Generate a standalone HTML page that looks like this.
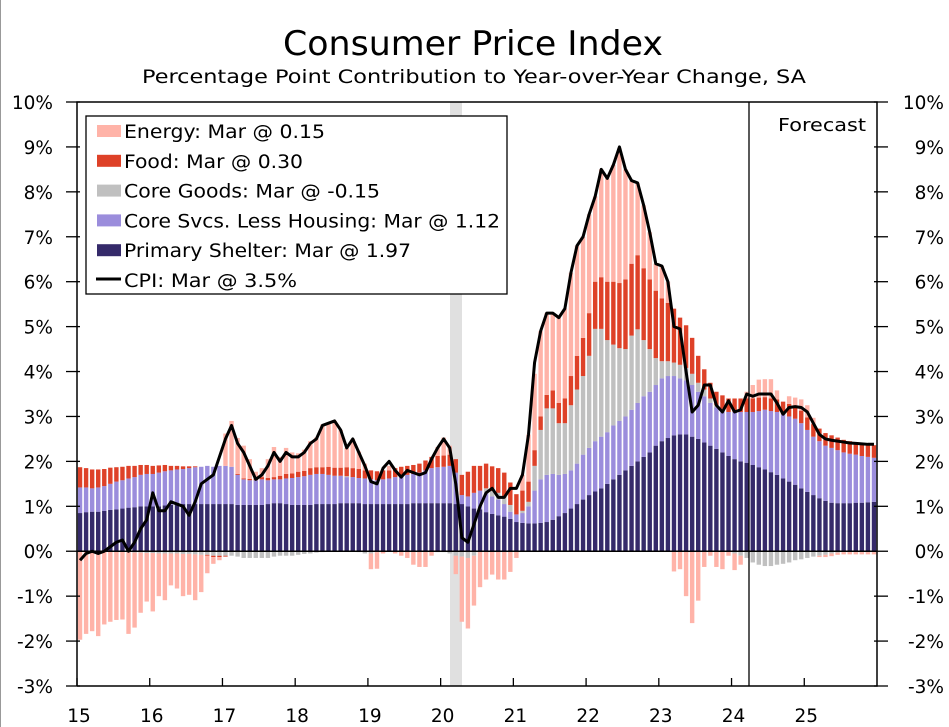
<!DOCTYPE html>
<html><head><meta charset="utf-8"><style>
body{margin:0;background:#fff;}
svg{display:block;font-family:"DejaVu Sans","Liberation Sans",sans-serif;}
</style></head><body>
<svg id="chart" width="949" height="727" viewBox="0 0 949 727">
<rect x="0" y="0" width="949" height="727" fill="#fff"/>
<line x1="0.5" y1="0" x2="0.5" y2="727" stroke="#999"/>
<text x="283" y="55" font-size="34" textLength="380" lengthAdjust="spacingAndGlyphs" fill="#000">Consumer Price Index</text>
<text x="142" y="83" font-size="19" textLength="664" lengthAdjust="spacingAndGlyphs" fill="#000">Percentage Point Contribution to Year-over-Year Change, SA</text>
<g id="plot"></g>
</svg>
<script>
const years=['15','16','17','18','19','20','21','22','23','24','25'];
const yTicks=[10,9,8,7,6,5,4,3,2,1,0,-1,-2,-3];
const shelter=[.85,.87,.88,.88,.9,.92,.93,.95,.97,.98,1.0,1.0, 1.0,1.0,1.02,1.03,1.05,1.05,1.05,1.05,1.05,1.05,1.05,1.05, 1.05,1.05,1.03,1.03,1.03,1.03,1.03,1.05,1.07,1.07,1.05,1.03, 1.03,1.03,1.03,1.05,1.05,1.05,1.05,1.07,1.07,1.07,1.07,1.05, 1.05,1.05,1.05,1.05,1.05,1.05,1.05,1.07,1.07,1.07,1.07,1.07, 1.07,1.07,1.05,1.05,1.0,.95,.93,.87,.83,.8,.77,.72, .65,.63,.62,.62,.63,.65,.7,.78,.85,.95,1.05,1.15, 1.25,1.33,1.4,1.5,1.6,1.7,1.8,1.9,2.0,2.1,2.2,2.35, 2.45,2.52,2.58,2.6,2.6,2.55,2.5,2.42,2.35,2.28,2.2,2.12, 2.05,2.0,1.97,1.92,1.87,1.82,1.76,1.7,1.62,1.55,1.48,1.4, 1.32,1.25,1.18,1.12,1.08,1.07,1.07,1.07,1.08,1.08,1.09,1.1];
const coreSvcs=[.57,.55,.52,.54,.55,.58,.62,.63,.65,.67,.7,.72, .72,.75,.76,.77,.77,.78,.8,.82,.83,.85,.83,.85, .85,.83,.67,.57,.55,.55,.57,.53,.53,.53,.57,.6, .62,.64,.67,.67,.67,.65,.63,.61,.58,.58,.56,.57, .55,.53,.55,.57,.6,.63,.65,.65,.68,.73,.78,.8, .81,.83,.7,.2,.22,.35,.42,.43,.39,.35,.28,.16, .17,.22,.38,.73,.97,1.05,1.02,.92,.87,.85,.9,1.0, 1.05,1.12,1.15,1.15,1.2,1.2,1.2,1.25,1.3,1.35,1.35,1.35, 1.4,1.38,1.32,1.25,1.2,1.15,1.05,1.03,.95,.92,.95,.98, 1.05,1.1,1.13,1.18,1.25,1.33,1.36,1.4,1.43,1.45,1.47,1.45, 1.38,1.3,1.27,1.23,1.22,1.18,1.13,1.1,1.07,1.04,1.01,.98];
const coreGoods=[0,0,0,0,0,0,0,0,-.02,-.03,-.03,-.04, -.04,-.05,-.05,-.05,-.05,-.06,-.06,-.07,-.08,-.08,-.1,-.1, -.1,-.1,-.12,-.15,-.15,-.15,-.15,-.15,-.12,-.1,-.1,-.1, -.08,-.06,-.05,-.03,-.02,0,0,0,.02,0,-.02,-.05, -.05,-.02,0,0,0,0,0,0,0,0,0,-.02, -.02,-.05,-.1,-.12,-.15,-.1,0,.1,.12,.15,.15,.15, 0,.05,.1,.55,1.1,1.48,1.46,1.15,1.13,1.45,1.65,1.75, 2.05,2.5,2.4,2.05,1.8,1.62,1.5,1.65,1.64,1.25,.95,.6, .38,.33,.3,.3,.28,.25,.2,.15,.1,.05,.02,0, -.05,-.1,-.15,-.25,-.3,-.33,-.33,-.3,-.28,-.25,-.2,-.18, -.15,-.12,-.1,-.08,-.05,-.03,-.02,-.02,-.02,-.02,-.02,-.02];
const food=[.45,.43,.42,.4,.38,.36,.32,.3,.28,.25,.22,.2, .18,.16,.14,.1,.08,.06,.04,.02,0,-.02,-.03,-.03, -.02,0,.02,.02,.03,.04,.05,.05,.05,.08,.1,.1, .12,.12,.15,.15,.15,.18,.18,.18,.2,.2,.2,.18, .2,.2,.2,.18,.2,.2,.2,.2,.2,.22,.25,.25, .25,.25,.3,.45,.55,.6,.55,.55,.55,.55,.55,.5, .45,.45,.45,.35,.3,.3,.4,.45,.55,.65,.75,.85, .95,1.05,1.15,1.3,1.4,1.45,1.55,1.6,1.65,1.6,1.55,1.5, 1.4,1.3,1.2,1.05,.95,.8,.6,.45,.35,.3,.3,.3, .3,.3,.3,.3,.3,.28,.28,.28,.28,.28,.28,.28, .28,.28,.28,.28,.28,.28,.28,.28,.28,.28,.28,.28];
const energy=[-1.97,-1.84,-1.78,-1.89,-1.63,-1.57,-1.53,-1.52,-1.82,-1.67,-1.34,-1.08, -1.3,-.95,-1.04,-.71,-.78,-.94,-.91,-1.02,-.83,-.39,-.15,-.07, .72,1.02,.8,.73,.44,.15,.2,.42,.67,.42,.58,.47, .41,.47,.6,.66,.95,.97,1.04,.84,.43,.65,.39,.15, -.35,-.37,-.05,.1,-.05,-.1,-.15,-.3,-.35,-.35,-.1,.2, .4,.2,-.41,-1.45,-1.57,-1.11,-.8,-.63,-.52,-.63,-.63,-.46, -.15,.35,1.05,1.7,1.9,1.82,1.72,1.9,2.0,2.3,2.45,2.25, 2.2,1.9,2.4,2.3,2.6,3.0,2.45,1.85,1.6,1.4,1.05,.6, .72,.47,-.45,-.4,-1.0,-1.6,-1.1,-.35,-.1,-.35,-.4,-.1, -.37,-.2,.15,.3,.4,.4,.43,.2,0,.17,.19,.25, .27,.14,-.03,-.05,-.06,-.05,-.05,-.05,-.05,-.05,-.05,-.05];
const cpi=[-.2,-.05,0,-.05,0,.1,.2,.25,0,.2,.5,.7, 1.3,.9,.9,1.1,1.05,1.0,.8,1.1,1.5,1.6,1.7,2.1, 2.5,2.8,2.4,2.2,1.9,1.6,1.7,1.9,2.2,2.0,2.2,2.1, 2.1,2.2,2.4,2.5,2.8,2.85,2.9,2.7,2.3,2.5,2.2,1.9, 1.55,1.5,1.85,2.0,1.8,1.65,1.8,1.75,1.7,1.75,2.05,2.3, 2.5,2.3,1.5,.3,.2,.6,1.0,1.3,1.4,1.2,1.2,1.4, 1.4,1.7,2.6,4.2,4.9,5.3,5.3,5.2,5.4,6.2,6.8,7.0, 7.5,7.9,8.5,8.3,8.6,9.0,8.5,8.25,8.2,7.7,7.1,6.4, 6.35,6.0,5.0,4.95,4.0,3.1,3.25,3.7,3.7,3.25,3.1,3.35, 3.1,3.15,3.5,3.45,3.5,3.5,3.5,3.3,3.05,3.2,3.22,3.2, 3.1,2.85,2.6,2.5,2.47,2.45,2.43,2.41,2.4,2.39,2.38,2.38];
const legendLabels=['Energy: Mar @ 0.15','Food: Mar @ 0.30','Core Goods: Mar @ -0.15','Core Svcs. Less Housing: Mar @ 1.12','Primary Shelter: Mar @ 1.97','CPI: Mar @ 3.5%'];

const NS='http://www.w3.org/2000/svg';
const g=document.getElementById('plot');
const X0=77,X1=877,Y0=102,Y1=686,VMIN=-3,VMAX=10;
const nM=132,step=(X1-X0)/nM;
function xs(i){return X0+(i+0.5)*step;}
function ys(v){return Y1-(v-VMIN)/(VMAX-VMIN)*(Y1-Y0);}
function mk(tag,attrs){const e=document.createElementNS(NS,tag);for(const k in attrs)e.setAttribute(k,attrs[k]);g.appendChild(e);return e;}

let e;
e=mk('rect',{x:450,y:Y0,width:12,height:Y1-Y0,fill:'#e0e0e0'});



const series=[[shelter,'#352a6a','shelter'],[coreSvcs,'#9b8ddc','core-svcs'],[coreGoods,'#c0c0c0','core-goods'],[food,'#de4128','food'],[energy,'#ffb3a8','energy']];
for(let i=0;i<nM;i++){
  let pos=0,neg=0;
  for(const [arr,col,nm] of series){
    const v=arr[i];let a,b;
    if(v>=0){a=pos;b=pos+v;pos=b;}else{a=neg;b=neg+v;neg=b;}
    const r=mk('rect',{x:(xs(i)-2.2).toFixed(2),y:ys(Math.max(a,b)).toFixed(2),width:4.4,height:Math.abs(ys(a)-ys(b)).toFixed(2),fill:col});
    
    
  }
}
e=mk('line',{x1:X0,y1:ys(0),x2:X1,y2:ys(0),stroke:'#000','stroke-width':1.5});


e=mk('line',{x1:749,y1:Y0,x2:749,y2:Y1,stroke:'#000','stroke-width':1.3});


e=mk('text',{x:778,y:131,'font-size':18,textLength:88,lengthAdjust:'spacingAndGlyphs'});e.textContent='Forecast';



let d='';for(let i=0;i<nM;i++)d+=(i?'L':'M')+xs(i).toFixed(2)+' '+ys(cpi[i]).toFixed(2);
e=mk('path',{d:d,fill:'none',stroke:'#000','stroke-width':3,'stroke-linejoin':'round'});



e=mk('path',{d:`M${X0} ${Y1}V${Y0}H${X1}V${Y1}H${X0}`,fill:'none',stroke:'#000','stroke-width':1.5});


for(const t of yTicks){
  const y=ys(t);
  e=mk('line',{x1:66,y1:y,x2:80,y2:y,stroke:'#000','stroke-width':1.3});
  
  
  e=mk('line',{x1:874,y1:y,x2:888,y2:y,stroke:'#000','stroke-width':1.3});
  
  
  e=mk('text',{x:53,y:y+7,'font-size':18.5,'text-anchor':'end'});e.textContent=t+'%';
  
  
  e=mk('text',{x:944,y:y+7,'font-size':18.5,'text-anchor':'end'});e.textContent=t+'%';
  
  
}
years.forEach((yr,k)=>{
  const x=X0+k*12*step;
  e=mk('line',{x1:x,y1:Y1,x2:x,y2:Y1-8,stroke:'#000','stroke-width':1.3});
  
  
  e=mk('text',{x:x+2,y:722,'font-size':18.5,'text-anchor':'middle'});e.textContent=yr;
  
  
});

e=mk('rect',{x:86,y:116,width:421,height:178,fill:'#fff',stroke:'#000','stroke-width':1.3});


const legCols=['#ffb3a8','#de4128','#c0c0c0','#9b8ddc','#352a6a',null];
const legW=[201,179,256,376,287,173];
legendLabels.forEach((lab,k)=>{
  const yb=137+k*29.8;
  if(legCols[k]){
    e=mk('rect',{x:97,y:yb-12,width:24,height:12,fill:legCols[k]});
  }else{
    e=mk('line',{x1:96,y1:yb-7,x2:121,y2:yb-7,stroke:'#000','stroke-width':3});
  }
  
  
  e=mk('text',{x:124,y:yb+1,'font-size':18.5,textLength:legW[k],lengthAdjust:'spacingAndGlyphs'});e.textContent=lab;
  
  
});
</script>
</body></html>
